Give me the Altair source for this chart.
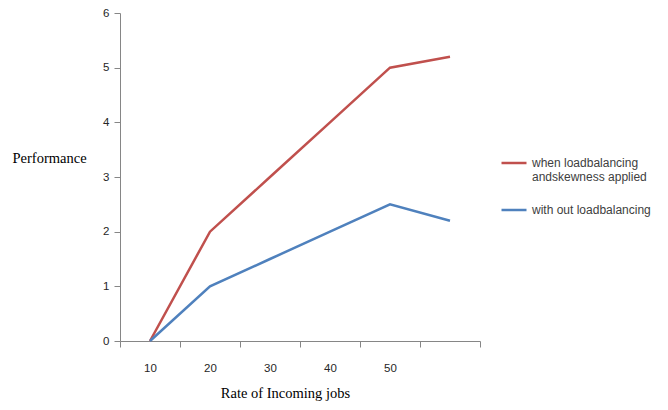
import altair as alt
import pandas as pd

categories = ["10", "20", "30", "40", "50", "60"]
red_values = [0, 2, 3, 4, 5, 5.2]
blue_values = [0, 1, 1.5, 2, 2.5, 2.2]
series_names = ["when loadbalancing|andskewness applied", "with out loadbalancing"]
series_colors = ["#C0504D", "#4F81BD"]

rows = []
for name, vals in zip(series_names, [red_values, blue_values]):
    for c, v in zip(categories, vals):
        rows.append({"rate": c, "perf": v, "series": name})
df = pd.DataFrame(rows)

axis_gray = "#868686"

chart = alt.Chart(df).mark_line(strokeWidth=2.5).encode(
    x=alt.X(
        "rate:O",
        scale=alt.Scale(type="band", domain=categories, paddingInner=0, paddingOuter=0),
        bandPosition=0.5,
        sort=categories,
        axis=alt.Axis(
            title="Rate of Incoming jobs",
            labelAngle=0,
            labelExpr="datum.label == '60' ? '' : datum.label",
            tickBand="extent",
            domainColor=axis_gray,
            tickColor=axis_gray,
            tickSize=6,
            labelPadding=15,
            labelFont="Liberation Sans",
            labelFontSize=11.5,
            labelColor="#262626",
            titleFont="Liberation Serif",
            titleFontSize=14.5,
            titleFontWeight="normal",
            titleColor="#000000",
            titleX=165,
            titleY=52,
            titleBaseline="middle",
            grid=False,
        ),
    ),
    y=alt.Y(
        "perf:Q",
        scale=alt.Scale(domain=[0, 6], nice=False),
        axis=alt.Axis(
            title="Performance",
            values=[0, 1, 2, 3, 4, 5, 6],
            grid=False,
            domainColor=axis_gray,
            tickColor=axis_gray,
            tickSize=6,
            labelPadding=5,
            labelFont="Liberation Sans",
            labelFontSize=11.5,
            labelColor="#262626",
            titleFont="Liberation Serif",
            titleFontSize=14.5,
            titleFontWeight="normal",
            titleColor="#000000",
            titleAngle=0,
            titleAlign="left",
            titleBaseline="middle",
            titleX=-108,
            titleY=145,
        ),
    ),
    color=alt.Color(
        "series:N",
        scale=alt.Scale(domain=series_names, range=series_colors),
        legend=alt.Legend(
            title=None,
            orient="none",
            legendX=380,
            legendY=136,
            symbolType="stroke",
            symbolSize=625,
            symbolStrokeWidth=2.5,
            labelFont="Liberation Sans",
            labelFontSize=12,
            labelColor="#404040",
            labelOffset=4,
            rowPadding=13,
            labelExpr="split(datum.label, '|')",
        ),
    ),
).properties(
    width=360,
    height=328,
    autosize=alt.AutoSizeParams(type="none"),
    padding={"left": 112, "top": 5, "right": 180, "bottom": 61},
    background="white",
).configure_view(stroke=None)

chart.save("out.html", embed_options={"renderer": "svg", "actions": False})
